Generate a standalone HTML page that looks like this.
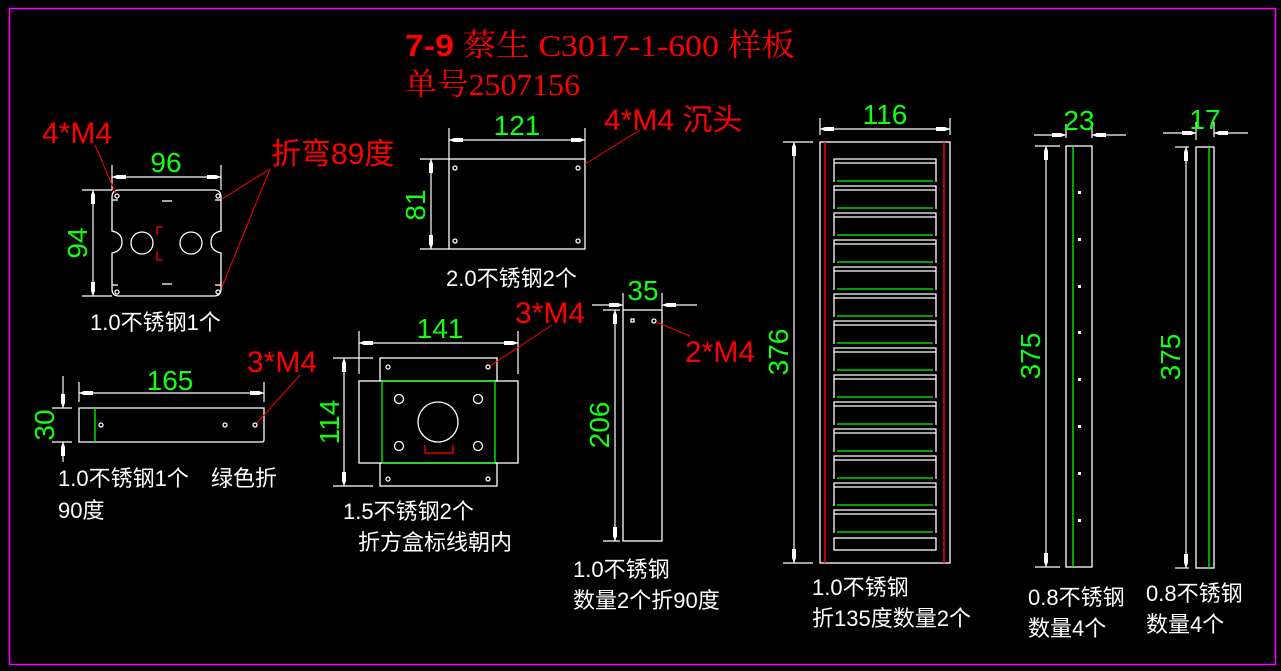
<!DOCTYPE html>
<html><head><meta charset="utf-8"><style>
html,body{margin:0;padding:0;background:#000;}
svg{display:block;}
text{font-family:"Liberation Sans","Noto Sans CJK SC",sans-serif;}
.w{stroke:#fff;stroke-width:1.3;fill:none;}
.g{stroke:#0f0;stroke-width:1.3;fill:none;}
.r{stroke:#f00;stroke-width:1;fill:none;}
.d{stroke:#fff;stroke-width:1.2;fill:none;}
.gt{fill:#1f1;font-size:28px;}
.rt{fill:#f00;font-size:30px;}
.wt{fill:#fff;font-size:22px;}
</style></head><body>
<svg width="1281" height="671" viewBox="0 0 1281 671" xmlns="http://www.w3.org/2000/svg">
<defs>
<marker id="a" viewBox="0 0 14 8" refX="14" refY="4" markerWidth="14" markerHeight="8" markerUnits="userSpaceOnUse" orient="auto-start-reverse">
<path d="M14,4 L9,2 L0,2 L0,6 L9,6 Z" fill="#fff"/>
</marker>
</defs>
<rect x="9.5" y="8.5" width="1266" height="656" fill="none" stroke="#f0f" stroke-width="1.5"/>

<!-- Title -->
<text x="405" y="56" font-size="31" fill="#f00" textLength="390" lengthAdjust="spacingAndGlyphs"><tspan font-weight="bold">7-9</tspan><tspan style="font-family:'Liberation Serif','Noto Serif CJK SC',serif"> 蔡生 C3017-1-600 样板</tspan></text>
<text x="405" y="95" font-size="31" fill="#f00" textLength="175" lengthAdjust="spacingAndGlyphs" style="font-family:'Liberation Serif','Noto Serif CJK SC',serif">单号2507156</text>

<!-- Part 1 -->
<path class="w" d="M119,190 H214 Q221,190 221,197 V231 Q211,233 211,242 Q211,251 221,253 V289 Q221,296 214,296 H119 Q112,296 112,289 V253 Q122,251 122,242 Q122,233 112,231 V197 Q112,190 119,190 Z"/>
<circle class="w" cx="142" cy="243" r="11"/><circle class="w" cx="191" cy="243" r="11"/>
<circle class="w" cx="117" cy="196" r="2"/><circle class="w" cx="218" cy="196" r="2"/>
<circle class="w" cx="117" cy="292" r="2"/><circle class="w" cx="218" cy="292" r="2"/>
<line class="w" x1="112" y1="200" x2="118" y2="200"/><line class="w" x1="215" y1="200" x2="221" y2="200"/>
<line class="w" x1="112" y1="285" x2="118" y2="285"/><line class="w" x1="215" y1="285" x2="221" y2="285"/>
<line class="w" x1="162" y1="201" x2="172" y2="201"/><line class="w" x1="162" y1="284" x2="172" y2="284"/>
<path stroke="#f00" stroke-width="1.3" fill="none" d="M163,227 H157 V235 M157,251 V260 H163"/>
<line class="d" x1="112" y1="165" x2="112" y2="190"/><line class="d" x1="221" y1="165" x2="221" y2="190"/>
<line class="d" x1="112" y1="177" x2="221" y2="177" marker-start="url(#a)" marker-end="url(#a)"/>
<text class="gt" x="166" y="172" text-anchor="middle">96</text>
<line class="d" x1="82" y1="190" x2="112" y2="190"/><line class="d" x1="82" y1="296" x2="112" y2="296"/>
<line class="d" x1="93" y1="190" x2="93" y2="296" marker-start="url(#a)" marker-end="url(#a)"/>
<text class="gt" x="87" y="243" text-anchor="middle" transform="rotate(-90 87 243)">94</text>
<text class="rt" x="42" y="143">4*M4</text>
<line class="r" x1="95" y1="145" x2="116" y2="194"/>
<text class="rt" x="271" y="164">折弯89度</text>
<line class="r" x1="270" y1="169" x2="222" y2="199"/><line class="r" x1="270" y1="169" x2="222" y2="287"/>
<text class="wt" x="90" y="330">1.0不锈钢1个</text>

<!-- Part 2 -->
<rect class="w" x="449" y="159" width="136" height="90"/>
<circle class="w" cx="455" cy="168" r="2"/><circle class="w" cx="578" cy="168" r="2"/>
<circle class="w" cx="455" cy="241" r="2"/><circle class="w" cx="578" cy="241" r="2"/>
<line class="d" x1="449" y1="128" x2="449" y2="159"/><line class="d" x1="585" y1="128" x2="585" y2="159"/>
<line class="d" x1="449" y1="140" x2="585" y2="140" marker-start="url(#a)" marker-end="url(#a)"/>
<text class="gt" x="517" y="135" text-anchor="middle">121</text>
<line class="d" x1="420" y1="159" x2="449" y2="159"/><line class="d" x1="420" y1="249" x2="449" y2="249"/>
<line class="d" x1="431" y1="159" x2="431" y2="249" marker-start="url(#a)" marker-end="url(#a)"/>
<text class="gt" x="425" y="205" text-anchor="middle" transform="rotate(-90 425 205)">81</text>
<text class="rt" x="604" y="130">4*M4 沉头</text>
<line class="r" x1="640" y1="130" x2="585" y2="164"/>
<text class="wt" x="446" y="286">2.0不锈钢2个</text>

<!-- Part 3 -->
<rect class="w" x="380" y="358" width="117" height="23"/>
<rect class="w" x="359" y="381" width="159" height="82"/>
<rect class="w" x="380" y="463" width="117" height="23"/>
<line class="g" x1="382" y1="381" x2="382" y2="463"/><line class="g" x1="495" y1="381" x2="495" y2="463"/>
<line class="g" x1="382" y1="381" x2="495" y2="381"/><line class="g" x1="382" y1="463" x2="495" y2="463"/>
<circle class="w" cx="388" cy="367" r="2"/><circle class="w" cx="488" cy="367" r="2"/>
<circle class="w" cx="388" cy="479" r="2"/><circle class="w" cx="488" cy="479" r="2"/>
<circle class="w" cx="399" cy="399" r="4.5"/><circle class="w" cx="478" cy="399" r="4.5"/>
<circle class="w" cx="399" cy="446" r="4.5"/><circle class="w" cx="478" cy="446" r="4.5"/>
<circle class="w" cx="438" cy="422" r="20"/>
<path stroke="#f00" stroke-width="1.3" fill="none" d="M425,445 V453 H453 V445"/>
<line class="d" x1="359" y1="331" x2="359" y2="374"/><line class="d" x1="518" y1="331" x2="518" y2="374"/>
<line class="d" x1="359" y1="343" x2="518" y2="343" marker-start="url(#a)" marker-end="url(#a)"/>
<text class="gt" x="440" y="338" text-anchor="middle">141</text>
<line class="d" x1="333" y1="358" x2="373" y2="358"/><line class="d" x1="333" y1="486" x2="373" y2="486"/>
<line class="d" x1="344" y1="358" x2="344" y2="486" marker-start="url(#a)" marker-end="url(#a)"/>
<text class="gt" x="339" y="422" text-anchor="middle" transform="rotate(-90 339 422)">114</text>
<text class="rt" x="515" y="323">3*M4</text>
<line class="r" x1="552" y1="325" x2="490" y2="366"/>
<text class="wt" x="343" y="519">1.5不锈钢2个</text>
<text class="wt" x="358" y="550">折方盒标线朝内</text>

<!-- Part 4 -->
<rect class="w" x="623" y="310" width="39" height="231"/>
<rect class="w" x="631" y="319" width="3" height="3"/><circle class="w" cx="654" cy="321" r="2"/>
<line class="d" x1="623" y1="293" x2="623" y2="310"/><line class="d" x1="662" y1="293" x2="662" y2="310"/>
<line class="d" x1="592" y1="305" x2="623" y2="305" marker-end="url(#a)"/>
<line class="d" x1="697" y1="305" x2="662" y2="305" marker-end="url(#a)"/>
<text class="gt" x="643" y="300" text-anchor="middle">35</text>
<line class="d" x1="603" y1="310" x2="620" y2="310"/><line class="d" x1="603" y1="541" x2="620" y2="541"/>
<line class="d" x1="615" y1="310" x2="615" y2="541" marker-start="url(#a)" marker-end="url(#a)"/>
<text class="gt" x="609" y="425" text-anchor="middle" transform="rotate(-90 609 425)">206</text>
<text class="rt" x="685" y="362">2*M4</text>
<line class="r" x1="656" y1="322" x2="690" y2="336"/>
<text class="wt" x="573" y="577">1.0不锈钢</text>
<text class="wt" x="573" y="608">数量2个折90度</text>

<!-- Part 5 -->
<path class="w" d="M79,408 H264 V440 Q264,442 262,442 H79 Z"/>
<line class="g" x1="95" y1="408" x2="95" y2="442"/>
<circle class="w" cx="101" cy="425" r="2"/><circle class="w" cx="225" cy="425" r="2"/><circle class="w" cx="255" cy="425" r="2"/>
<line class="d" x1="79" y1="382" x2="79" y2="402"/><line class="d" x1="264" y1="382" x2="264" y2="402"/>
<line class="d" x1="79" y1="393" x2="264" y2="393" marker-start="url(#a)" marker-end="url(#a)"/>
<text class="gt" x="170" y="390" text-anchor="middle">165</text>
<line class="d" x1="52" y1="408" x2="72" y2="408"/><line class="d" x1="52" y1="442" x2="72" y2="442"/>
<line class="d" x1="63" y1="376" x2="63" y2="408" marker-end="url(#a)"/>
<line class="d" x1="63" y1="462" x2="63" y2="442" marker-end="url(#a)"/>
<text class="gt" x="54" y="425" text-anchor="middle" transform="rotate(-90 54 425)">30</text>
<text class="rt" x="247" y="372">3*M4</text>
<line class="r" x1="300" y1="375" x2="257" y2="423"/>
<text class="wt" x="58" y="486">1.0不锈钢1个<tspan x="211">绿色折</tspan></text>
<text class="wt" x="58" y="518">90度</text>

<!-- Louver -->
<rect class="w" x="820" y="142" width="130" height="421"/>
<line stroke="#f00" stroke-width="1.5" x1="825" y1="142" x2="825" y2="563"/>
<line stroke="#f00" stroke-width="1.5" x1="944" y1="142" x2="944" y2="563"/>
<g id="sl">
<path class="w" d="M834,163 V159 H936 V163 M834,182 V163 H936 V182"/>
<line class="g" x1="837" y1="181" x2="933" y2="181"/>
</g>
<use href="#sl" y="27"/><use href="#sl" y="54"/><use href="#sl" y="81"/><use href="#sl" y="108"/>
<use href="#sl" y="135"/><use href="#sl" y="162"/><use href="#sl" y="189"/><use href="#sl" y="216"/>
<use href="#sl" y="243"/><use href="#sl" y="270"/><use href="#sl" y="297"/><use href="#sl" y="324"/>
<use href="#sl" y="351"/>
<rect class="w" x="834" y="538" width="102" height="12"/>
<line class="d" x1="820" y1="118" x2="820" y2="135"/><line class="d" x1="950" y1="118" x2="950" y2="135"/>
<line class="d" x1="820" y1="129" x2="950" y2="129" marker-start="url(#a)" marker-end="url(#a)"/>
<text class="gt" x="885" y="124" text-anchor="middle">116</text>
<line class="d" x1="783" y1="142" x2="813" y2="142"/><line class="d" x1="783" y1="563" x2="813" y2="563"/>
<line class="d" x1="794" y1="142" x2="794" y2="563" marker-start="url(#a)" marker-end="url(#a)"/>
<text class="gt" x="788" y="352" text-anchor="middle" transform="rotate(-90 788 352)">376</text>
<text class="wt" x="812" y="595">1.0不锈钢</text>
<text class="wt" x="812" y="626">折135度数量2个</text>

<!-- Strip 1 -->
<rect class="w" x="1066" y="146" width="26" height="421"/>
<line class="g" x1="1073" y1="146" x2="1073" y2="567"/>
<g fill="#fff"><rect x="1078" y="191" width="3" height="3"/><rect x="1078" y="238" width="3" height="3"/><rect x="1078" y="285" width="3" height="3"/><rect x="1078" y="331" width="3" height="3"/><rect x="1078" y="378" width="3" height="3"/><rect x="1078" y="425" width="3" height="3"/><rect x="1078" y="472" width="3" height="3"/><rect x="1078" y="519" width="3" height="3"/></g>
<line class="d" x1="1066" y1="124" x2="1066" y2="138"/><line class="d" x1="1092" y1="124" x2="1092" y2="138"/>
<line class="d" x1="1034" y1="135" x2="1066" y2="135" marker-end="url(#a)"/>
<line class="d" x1="1126" y1="135" x2="1092" y2="135" marker-end="url(#a)"/>
<text class="gt" x="1079" y="130" text-anchor="middle">23</text>
<line class="d" x1="1035" y1="146" x2="1060" y2="146"/><line class="d" x1="1035" y1="567" x2="1060" y2="567"/>
<line class="d" x1="1046" y1="146" x2="1046" y2="567" marker-start="url(#a)" marker-end="url(#a)"/>
<text class="gt" x="1040" y="356" text-anchor="middle" transform="rotate(-90 1040 356)">375</text>
<text class="wt" x="1028" y="605">0.8不锈钢</text>
<text class="wt" x="1028" y="636">数量4个</text>

<!-- Strip 2 -->
<rect class="w" x="1196" y="147" width="18" height="421"/>
<line class="g" x1="1209" y1="147" x2="1209" y2="568"/>
<line class="d" x1="1196" y1="122" x2="1196" y2="140"/><line class="d" x1="1214" y1="122" x2="1214" y2="137"/>
<line class="d" x1="1163" y1="133" x2="1196" y2="133" marker-end="url(#a)"/>
<line class="d" x1="1248" y1="133" x2="1214" y2="133" marker-end="url(#a)"/>
<text class="gt" x="1205" y="129" text-anchor="middle">17</text>
<line class="d" x1="1175" y1="147" x2="1189" y2="147"/><line class="d" x1="1175" y1="568" x2="1189" y2="568"/>
<line class="d" x1="1186" y1="147" x2="1186" y2="568" marker-start="url(#a)" marker-end="url(#a)"/>
<text class="gt" x="1180" y="357" text-anchor="middle" transform="rotate(-90 1180 357)">375</text>
<text class="wt" x="1146" y="601">0.8不锈钢</text>
<text class="wt" x="1146" y="632">数量4个</text>
</svg>
</body></html>
